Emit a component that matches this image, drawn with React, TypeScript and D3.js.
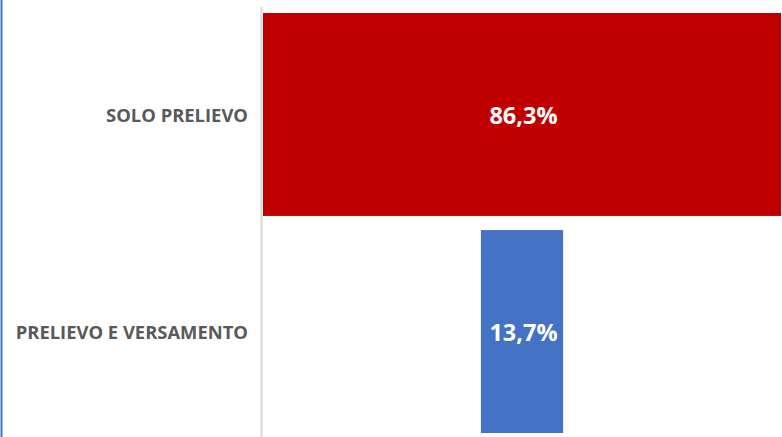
import React from "react";
import * as d3 from "d3";

const categories = ["SOLO PRELIEVO", "PRELIEVO E VERSAMENTO"];
const values = [86.3, 13.7];
const valueLabels = ["86,3%", "13,7%"];
const colors = ["#C00000", "#4472C4"];

const W = 782;
const H = 437;

export default function App() {
  const centerX = 522;
  const maxW = 518;
  const x = d3.scaleLinear().domain([0, d3.max(values) as number]).range([0, maxW]);
  const y = d3.scaleBand<string>().domain(categories).range([13, 433]).paddingInner(0.065);

  return (
    <div style={{ position: "absolute", left: 0, top: 0 }}>
      <svg width={W} height={H} style={{ display: "block" }}>
        <rect x={0} y={0} width={W} height={H} fill="#ffffff" />
        <line x1={1.5} x2={1.5} y1={0} y2={H} stroke="#4472C4" strokeWidth={2} />
        <line x1={261.5} x2={261.5} y1={7} y2={H} stroke="#D9D9D9" strokeWidth={2} />
        {categories.map((c, i) => {
          const w = x(values[i]);
          const y0 = y(c) as number;
          const bh = y.bandwidth();
          return (
            <g key={c}>
              <rect x={centerX - w / 2} y={y0} width={w} height={bh} fill={colors[i]} />
              <text
                x={centerX + 1.5}
                y={y0 + bh / 2 + 3}
                textAnchor="middle"
                dominantBaseline="middle"
                fill="#ffffff"
                fontFamily="'Open Sans', sans-serif"
                fontWeight={700}
                fontSize={23.5}
              >
                {valueLabels[i]}
              </text>
              <text
                x={248}
                y={y0 + bh / 2 + 2.5}
                textAnchor="end"
                dominantBaseline="middle"
                fill="#595959"
                fontFamily="'Open Sans', sans-serif"
                fontWeight={700}
                fontSize={18.4}
              >
                {c}
              </text>
            </g>
          );
        })}
      </svg>
    </div>
  );
}
